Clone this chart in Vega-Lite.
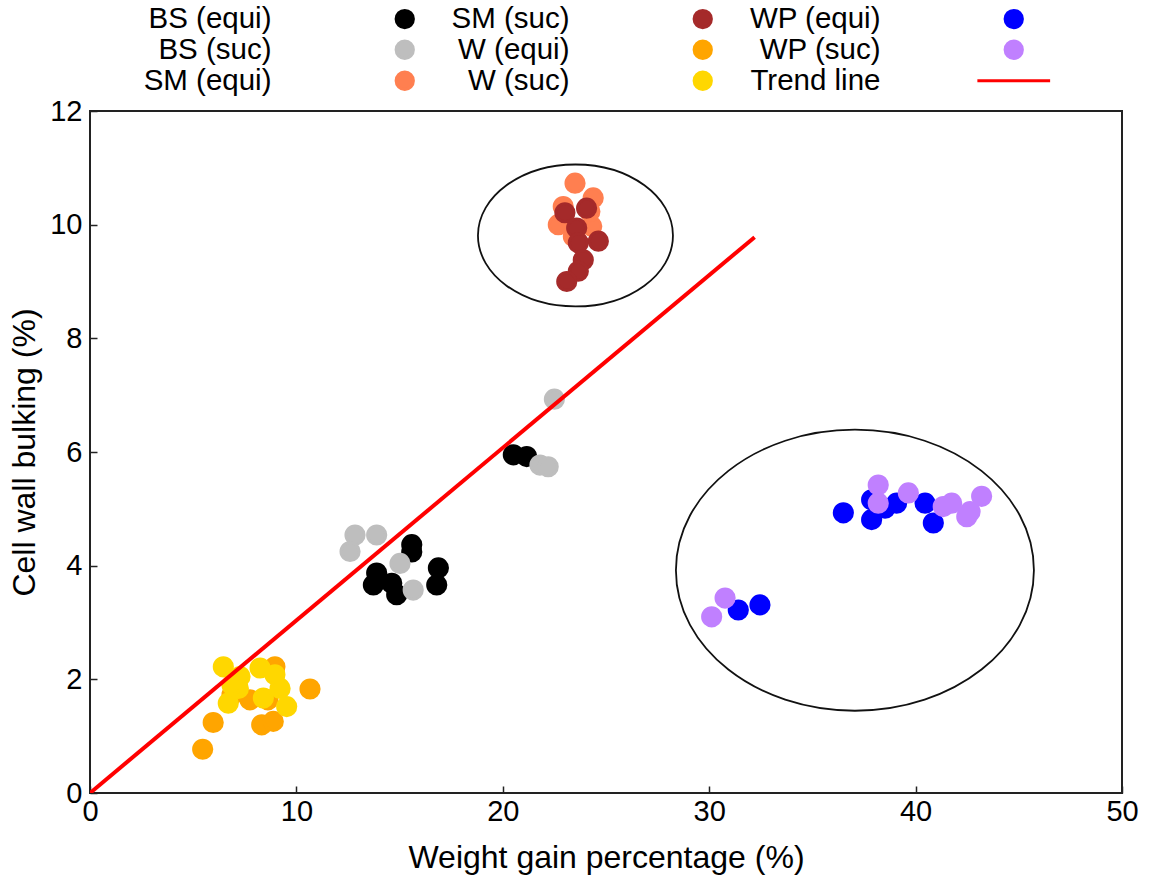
{
  "$schema": "https://vega.github.io/schema/vega-lite/v6.json",
  "width": 1032,
  "height": 682,
  "autosize": {"type": "none"},
  "padding": {"left": 90, "top": 111, "right": 30, "bottom": 89},
  "background": "white",
  "datasets": {
    "points": [
      {"series": "BS (equi)", "wg": 15.59, "cwb": 4.37},
      {"series": "BS (equi)", "wg": 15.59, "cwb": 4.24},
      {"series": "BS (equi)", "wg": 13.89, "cwb": 3.87},
      {"series": "BS (equi)", "wg": 13.73, "cwb": 3.66},
      {"series": "BS (equi)", "wg": 14.86, "cwb": 3.49},
      {"series": "BS (equi)", "wg": 14.62, "cwb": 3.69},
      {"series": "BS (equi)", "wg": 16.88, "cwb": 3.96},
      {"series": "BS (equi)", "wg": 16.8, "cwb": 3.66},
      {"series": "BS (equi)", "wg": 20.51, "cwb": 5.95},
      {"series": "BS (equi)", "wg": 21.16, "cwb": 5.92},
      {"series": "BS (suc)", "wg": 12.84, "cwb": 4.54},
      {"series": "BS (suc)", "wg": 13.89, "cwb": 4.54},
      {"series": "BS (suc)", "wg": 12.6, "cwb": 4.25},
      {"series": "BS (suc)", "wg": 15.02, "cwb": 4.04},
      {"series": "BS (suc)", "wg": 15.66, "cwb": 3.57},
      {"series": "BS (suc)", "wg": 22.5, "cwb": 6.93},
      {"series": "BS (suc)", "wg": 21.8, "cwb": 5.77},
      {"series": "BS (suc)", "wg": 22.2, "cwb": 5.74},
      {"series": "SM (equi)", "wg": 23.5, "cwb": 10.73},
      {"series": "SM (equi)", "wg": 24.38, "cwb": 10.47},
      {"series": "SM (equi)", "wg": 22.93, "cwb": 10.32},
      {"series": "SM (equi)", "wg": 22.69, "cwb": 10.0},
      {"series": "SM (equi)", "wg": 24.31, "cwb": 9.97},
      {"series": "SM (equi)", "wg": 23.42, "cwb": 9.79},
      {"series": "SM (equi)", "wg": 24.22, "cwb": 10.23},
      {"series": "SM (suc)", "wg": 23.01, "cwb": 10.21},
      {"series": "SM (suc)", "wg": 24.06, "cwb": 10.29},
      {"series": "SM (suc)", "wg": 23.58, "cwb": 9.94},
      {"series": "SM (suc)", "wg": 24.63, "cwb": 9.71},
      {"series": "SM (suc)", "wg": 23.66, "cwb": 9.68},
      {"series": "SM (suc)", "wg": 23.9, "cwb": 9.38},
      {"series": "SM (suc)", "wg": 23.66, "cwb": 9.18},
      {"series": "SM (suc)", "wg": 23.1, "cwb": 9.0},
      {"series": "W (equi)", "wg": 5.97, "cwb": 1.24},
      {"series": "W (equi)", "wg": 5.46, "cwb": 0.77},
      {"series": "W (equi)", "wg": 10.66, "cwb": 1.83},
      {"series": "W (equi)", "wg": 8.32, "cwb": 1.2},
      {"series": "W (equi)", "wg": 8.88, "cwb": 1.26},
      {"series": "W (equi)", "wg": 8.96, "cwb": 2.22},
      {"series": "W (equi)", "wg": 7.75, "cwb": 1.64},
      {"series": "W (equi)", "wg": 6.88, "cwb": 1.73},
      {"series": "W (equi)", "wg": 8.62, "cwb": 1.64},
      {"series": "W (suc)", "wg": 6.46, "cwb": 2.22},
      {"series": "W (suc)", "wg": 7.19, "cwb": 1.84},
      {"series": "W (suc)", "wg": 6.7, "cwb": 1.58},
      {"series": "W (suc)", "wg": 8.24, "cwb": 2.2},
      {"series": "W (suc)", "wg": 8.96, "cwb": 2.08},
      {"series": "W (suc)", "wg": 8.4, "cwb": 1.67},
      {"series": "W (suc)", "wg": 9.21, "cwb": 1.84},
      {"series": "W (suc)", "wg": 9.53, "cwb": 1.52},
      {"series": "W (suc)", "wg": 7.27, "cwb": 2.05},
      {"series": "W (suc)", "wg": 6.88, "cwb": 1.9},
      {"series": "WP (equi)", "wg": 36.5, "cwb": 4.93},
      {"series": "WP (equi)", "wg": 37.87, "cwb": 4.81},
      {"series": "WP (equi)", "wg": 37.87, "cwb": 5.16},
      {"series": "WP (equi)", "wg": 38.52, "cwb": 5.01},
      {"series": "WP (equi)", "wg": 39.08, "cwb": 5.1},
      {"series": "WP (equi)", "wg": 40.46, "cwb": 5.1},
      {"series": "WP (equi)", "wg": 40.86, "cwb": 4.75},
      {"series": "WP (equi)", "wg": 31.41, "cwb": 3.22},
      {"series": "WP (equi)", "wg": 32.46, "cwb": 3.31},
      {"series": "WP (suc)", "wg": 38.19, "cwb": 5.42},
      {"series": "WP (suc)", "wg": 38.19, "cwb": 5.1},
      {"series": "WP (suc)", "wg": 39.65, "cwb": 5.28},
      {"series": "WP (suc)", "wg": 41.34, "cwb": 5.04},
      {"series": "WP (suc)", "wg": 41.75, "cwb": 5.1},
      {"series": "WP (suc)", "wg": 42.48, "cwb": 4.86},
      {"series": "WP (suc)", "wg": 42.64, "cwb": 4.95},
      {"series": "WP (suc)", "wg": 43.2, "cwb": 5.22},
      {"series": "WP (suc)", "wg": 30.77, "cwb": 3.43},
      {"series": "WP (suc)", "wg": 30.12, "cwb": 3.1}
    ],
    "trend": [
      {"wg": 0, "cwb": 0},
      {"wg": 32.2, "cwb": 9.78}
    ],
    "ellipseTop": [{"wg": 23.52, "cwb": 9.81}],
    "ellipseBottom": [{"wg": 37.06, "cwb": 3.92}]
  },
  "layer": [
    {
      "data": {"name": "ellipseTop"},
      "mark": {"type": "point", "shape": "M-1,0C-1,-0.402,-0.5523,-0.728,0,-0.728C0.5523,-0.728,1,-0.402,1,0C1,0.402,0.5523,0.728,0,0.728C-0.5523,0.728,-1,0.402,-1,0Z", "size": 38025, "filled": false, "stroke": "#111111", "strokeWidth": 1.8, "opacity": 1},
      "encoding": {
        "x": {"field": "wg", "type": "quantitative"},
        "y": {"field": "cwb", "type": "quantitative"}
      }
    },
    {
      "data": {"name": "ellipseBottom"},
      "mark": {"type": "point", "shape": "M-1,0C-1,-0.4336,-0.5523,-0.785,0,-0.785C0.5523,-0.785,1,-0.4336,1,0C1,0.4336,0.5523,0.785,0,0.785C-0.5523,0.785,-1,0.4336,-1,0Z", "size": 128164, "filled": false, "stroke": "#111111", "strokeWidth": 1.8, "opacity": 1},
      "encoding": {
        "x": {"field": "wg", "type": "quantitative"},
        "y": {"field": "cwb", "type": "quantitative"}
      }
    },
    {
      "data": {"name": "points"},
      "mark": {"type": "point", "filled": true, "size": 330, "opacity": 1, "strokeWidth": 3},
      "encoding": {
        "x": {
          "field": "wg", "type": "quantitative",
          "scale": {"domain": [0, 50], "nice": false, "zero": false},
          "axis": {"values": [0, 10, 20, 30, 40, 50], "format": "d", "title": "Weight gain percentage (%)", "labelPadding": 11, "titlePadding": 16, "labelFlush": false}
        },
        "y": {
          "field": "cwb", "type": "quantitative",
          "scale": {"domain": [0, 12], "nice": false, "zero": false},
          "axis": {"values": [0, 2, 4, 6, 8, 10, 12], "format": "d", "title": "Cell wall bulking (%)", "labelPadding": 15, "titlePadding": 8, "labelFlush": false}
        },
        "color": {
          "field": "series", "type": "nominal",
          "scale": {
            "domain": ["BS (equi)", "BS (suc)", "SM (equi)", "SM (suc)", "W (equi)", "W (suc)", "WP (equi)", "WP (suc)", "Trend line"],
            "range": ["#000000", "#bebebe", "#ff7f50", "#a52a2a", "#ffa500", "#ffd700", "#0000ff", "#c080ff", "#ff0000"]
          },
          "legend": {
            "title": null, "orient": "none", "legendX": 300, "legendY": -107, "columns": 3, "padding": 0,
            "symbolSize": 300, "symbolStrokeWidth": 3,
            "labelFontSize": 29.5, "labelFont": "Liberation Sans", "labelColor": "#000000",
            "labelAlign": "right", "labelBaseline": "middle", "labelOffset": -148, "labelLimit": 400,
            "columnPadding": 31, "rowPadding": 0
          }
        },
        "stroke": {
          "field": "series", "type": "nominal",
          "scale": {
            "domain": ["BS (equi)", "BS (suc)", "SM (equi)", "SM (suc)", "W (equi)", "W (suc)", "WP (equi)", "WP (suc)", "Trend line"],
            "range": ["#000000", "#bebebe", "#ff7f50", "#a52a2a", "#ffa500", "#ffd700", "#0000ff", "#c080ff", "#ff0000"]
          },
          "legend": {
            "title": null, "orient": "none", "legendX": 300, "legendY": -107, "columns": 3, "padding": 0,
            "symbolSize": 300, "symbolStrokeWidth": 3,
            "labelFontSize": 29.5, "labelFont": "Liberation Sans", "labelColor": "#000000",
            "labelAlign": "right", "labelBaseline": "middle", "labelOffset": -148, "labelLimit": 400,
            "columnPadding": 31, "rowPadding": 0
          }
        },
        "shape": {
          "field": "series", "type": "nominal",
          "scale": {
            "domain": ["BS (equi)", "BS (suc)", "SM (equi)", "SM (suc)", "W (equi)", "W (suc)", "WP (equi)", "WP (suc)", "Trend line"],
            "range": ["circle", "circle", "circle", "circle", "circle", "circle", "circle", "circle", "M-4.2,0L4.2,0"]
          },
          "legend": {
            "title": null, "orient": "none", "legendX": 300, "legendY": -107, "columns": 3, "padding": 0,
            "symbolSize": 300, "symbolStrokeWidth": 3,
            "labelFontSize": 29.5, "labelFont": "Liberation Sans", "labelColor": "#000000",
            "labelAlign": "right", "labelBaseline": "middle", "labelOffset": -148, "labelLimit": 400,
            "columnPadding": 31, "rowPadding": 0
          }
        }
      }
    },
    {
      "data": {"name": "trend"},
      "mark": {"type": "line", "color": "#ff0000", "strokeWidth": 4, "clip": true},
      "encoding": {
        "x": {"field": "wg", "type": "quantitative"},
        "y": {"field": "cwb", "type": "quantitative"}
      }
    }
  ],
  "config": {
    "font": "Liberation Sans",
    "view": {"stroke": "#222222", "strokeWidth": 2},
    "axis": {
      "grid": false,
      "domain": false,
      "ticks": true,
      "tickColor": "#222222",
      "tickWidth": 1.5,
      "tickSize": -7,
      "labelFontSize": 29,
      "labelColor": "#000000",
      "labelFont": "Liberation Sans",
      "titleFontSize": 32,
      "titleFontWeight": "normal",
      "titleColor": "#000000",
      "titleFont": "Liberation Sans"
    }
  }
}
